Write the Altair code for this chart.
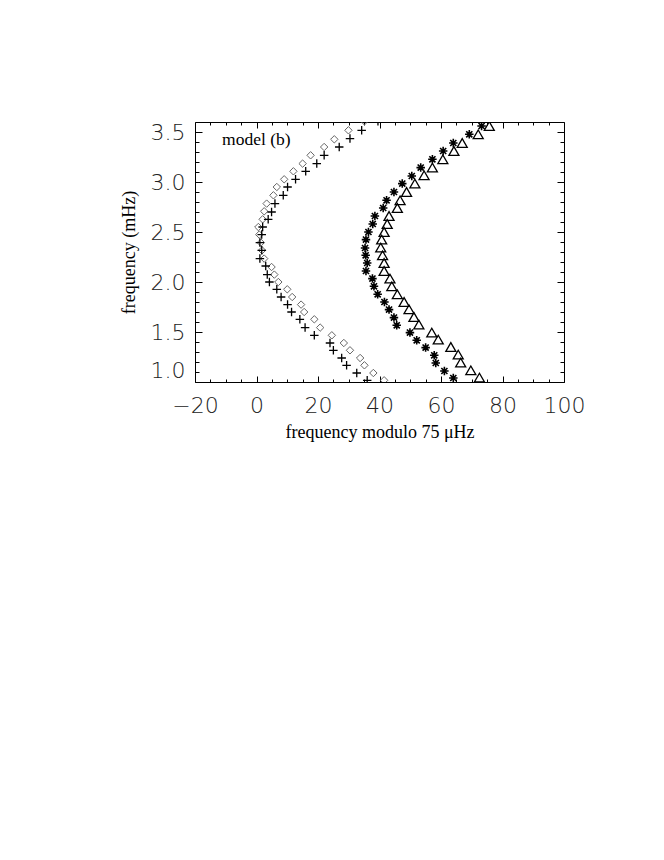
import altair as alt
import pandas as pd

# ---- data (x: frequency modulo 75 uHz, y: frequency mHz) ----
dia_x = [35.1, 29.9, 25.3, 22.0, 17.6, 15.0, 12.0, 9.0, 6.6, 5.5, 3.3, 2.5, 2.0, 0.6, 0.9, 1.4, 1.8,
         2.5, 4.9, 5.8, 7.1, 10.0, 11.6, 14.5, 15.5, 18.8, 20.7, 24.5, 28.4, 30.4, 33.7, 35.1, 38.0, 41.5]
dia_y = [3.607, 3.517, 3.427, 3.35, 3.267, 3.184, 3.107, 3.027, 2.95, 2.867, 2.784, 2.707, 2.627, 2.55,
         2.474, 2.394, 2.317, 2.234, 2.15, 2.074, 2.0, 1.927, 1.85, 1.774, 1.70, 1.627, 1.544, 1.467,
         1.39, 1.317, 1.24, 1.167, 1.09, 1.017]

plus_x = [39.5, 34.2, 30.4, 26.9, 22.0, 19.6, 16.0, 12.7, 10.1, 8.7, 6.0, 4.9, 3.8, 2.0, 1.7, 1.1, 1.7,
          1.1, 3.0, 3.5, 4.2, 6.6, 8.0, 10.1, 11.4, 14.1, 15.8, 18.8, 23.9, 25.0, 27.7, 29.3, 32.6, 36.0]
plus_y = [3.607, 3.517, 3.434, 3.35, 3.267, 3.184, 3.107, 3.027, 2.95, 2.867, 2.784, 2.70, 2.627, 2.55,
          2.474, 2.394, 2.317, 2.234, 2.16, 2.074, 2.0, 1.927, 1.85, 1.774, 1.70, 1.627, 1.544, 1.467,
          1.39, 1.317, 1.24, 1.167, 1.09, 1.017]

star_x = [73.2, 69.2, 64.0, 60.7, 57.2, 53.4, 50.5, 47.4, 44.7, 42.3, 41.2, 38.5, 37.8, 36.4, 35.6, 35.3,
          35.5, 36.0, 35.6, 37.7, 38.2, 39.4, 41.6, 43.1, 44.7, 45.6, 49.9, 52.1, 55.0, 57.8, 58.3, 61.1, 64.0]
star_y = [3.56, 3.477, 3.39, 3.31, 3.227, 3.144, 3.06, 2.984, 2.90, 2.817, 2.74, 2.66, 2.58, 2.50, 2.424,
          2.34, 2.267, 2.19, 2.11, 2.034, 1.957, 1.877, 1.80, 1.724, 1.644, 1.567, 1.494, 1.417, 1.344,
          1.267, 1.19, 1.11, 1.04]

tri_x = [75.7, 72.1, 66.9, 64.2, 60.6, 57.2, 54.5, 51.5, 48.8, 46.7, 45.8, 43.1, 42.5, 41.5, 40.7, 40.4,
         41.0, 41.5, 41.5, 43.4, 44.0, 45.8, 48.0, 49.6, 51.2, 52.8, 57.0, 59.1, 63.2, 65.6, 66.4, 69.7, 72.5]
tri_y = [3.56, 3.477, 3.39, 3.31, 3.227, 3.144, 3.067, 2.984, 2.90, 2.817, 2.74, 2.66, 2.58, 2.50, 2.424,
         2.344, 2.267, 2.19, 2.11, 2.034, 1.957, 1.877, 1.80, 1.727, 1.65, 1.574, 1.494, 1.424, 1.35,
         1.274, 1.194, 1.117, 1.044]

label_text = ["model (b)"]
label_x = [-11.2]
label_y = [3.417]

x_major = [-20, 0, 20, 40, 60, 80, 100]
x_minor = [v for v in range(-15, 100, 5) if v % 20 != 0]
y_major = [1.0, 1.5, 2.0, 2.5, 3.0, 3.5]
y_minor = [round(1.0 + 0.1 * i, 1) for i in range(1, 26) if i % 5 != 0]

W, H = 369, 260

dia = pd.DataFrame({"x": dia_x, "y": dia_y})
plus = pd.DataFrame({"x": plus_x, "y": plus_y})
star = pd.DataFrame({"x": star_x, "y": star_y})
tri = pd.DataFrame({"x": tri_x, "y": tri_y})
lab = pd.DataFrame({"x": label_x, "y": label_y, "t": label_text})

xs = alt.Scale(domain=[-20, 100], nice=False, zero=False)
ys = alt.Scale(domain=[1.0, 3.6], nice=False, zero=False)

LABEL_FONT = "DejaVu Sans"
SERIF = "Liberation Serif"


def tick_axis(orient, offset, values, size):
    return alt.Axis(orient=orient, offset=offset, values=values, tickSize=size, ticks=True,
                    labels=False, domain=False, grid=False, title="", tickColor="black",
                    tickWidth=1)


x_main = alt.Axis(orient="bottom", values=x_major, format="d", ticks=False, tickSize=0,
                  domain=False, grid=False, labelFont=LABEL_FONT, labelFontWeight=200,
                  labelFontSize=22, labelColor="#222", labelPadding=13, labelFlush=False,
                  labelOverlap=False, title="frequency modulo 75 μHz", titleFont=SERIF,
                  titleFontSize=18, titleFontWeight="normal", titleColor="black",
                  titleBaseline="middle", titleY=50)
y_main = alt.Axis(orient="left", values=y_major, format=".1f", ticks=False, tickSize=0,
                  domain=False, grid=False, labelFont=LABEL_FONT, labelFontWeight=200,
                  labelFontSize=22, labelColor="#222", labelPadding=10, labelFlush=True,
                  labelOverlap=False, title="frequency (mHz)", titleFont=SERIF,
                  titleFontSize=18, titleFontWeight="normal", titleColor="black",
                  titleAngle=270, titleBaseline="middle", titleX=-66, titleY=H / 2)

PLUS = "M-1,0L1,0M0,-1L0,1"
STAR = "M-1,0L1,0M0,-1L0,1M-0.72,-0.72L0.72,0.72M-0.72,0.72L0.72,-0.72"

l_dia = alt.Chart(dia).mark_point(shape="diamond", filled=False, stroke="#666", strokeWidth=1,
                                  size=55, opacity=1, clip=True).encode(
    x=alt.X("x:Q", scale=xs, axis=x_main),
    y=alt.Y("y:Q", scale=ys, axis=y_main))

l_plus = alt.Chart(plus).mark_point(shape=PLUS, filled=False, stroke="black", strokeWidth=1.3,
                                    size=72, opacity=1, clip=True).encode(
    x=alt.X("x:Q", scale=xs, axis=tick_axis("top", -H, x_major, 6)),
    y=alt.Y("y:Q", scale=ys, axis=tick_axis("right", -W, y_major, 7)))

l_star = alt.Chart(star).mark_point(shape=STAR, filled=False, stroke="black", strokeWidth=1.6,
                                    size=72, opacity=1, clip=True).encode(
    x=alt.X("x:Q", scale=xs, axis=tick_axis("bottom", -H, x_major, 6)),
    y=alt.Y("y:Q", scale=ys, axis=tick_axis("left", -W, y_major, 7)))

l_tri = alt.Chart(tri).mark_point(shape="triangle-up", filled=False, stroke="black",
                                  strokeWidth=1.3, size=100, opacity=1, clip=True).encode(
    x=alt.X("x:Q", scale=xs, axis=tick_axis("top", -H, x_minor, 3)),
    y=alt.Y("y:Q", scale=ys, axis=tick_axis("right", -W, y_minor, 4)))

l_txt = alt.Chart(lab).mark_text(font=SERIF, fontSize=17.5, align="left", baseline="middle",
                                 color="black").encode(
    x=alt.X("x:Q", scale=xs, axis=tick_axis("bottom", -H, x_minor, 3)),
    y=alt.Y("y:Q", scale=ys, axis=tick_axis("left", -W, y_minor, 4)),
    text="t:N")

chart = alt.layer(l_dia, l_plus, l_star, l_tri, l_txt).resolve_axis(
    x="independent", y="independent"
).properties(
    width=W, height=H, autosize="none",
    padding={"left": 187, "top": 114, "right": 90, "bottom": 300},
    background="white",
).configure_view(stroke="black", strokeWidth=1)

chart.save("out.html", embed_options={"renderer": "svg", "actions": False})
